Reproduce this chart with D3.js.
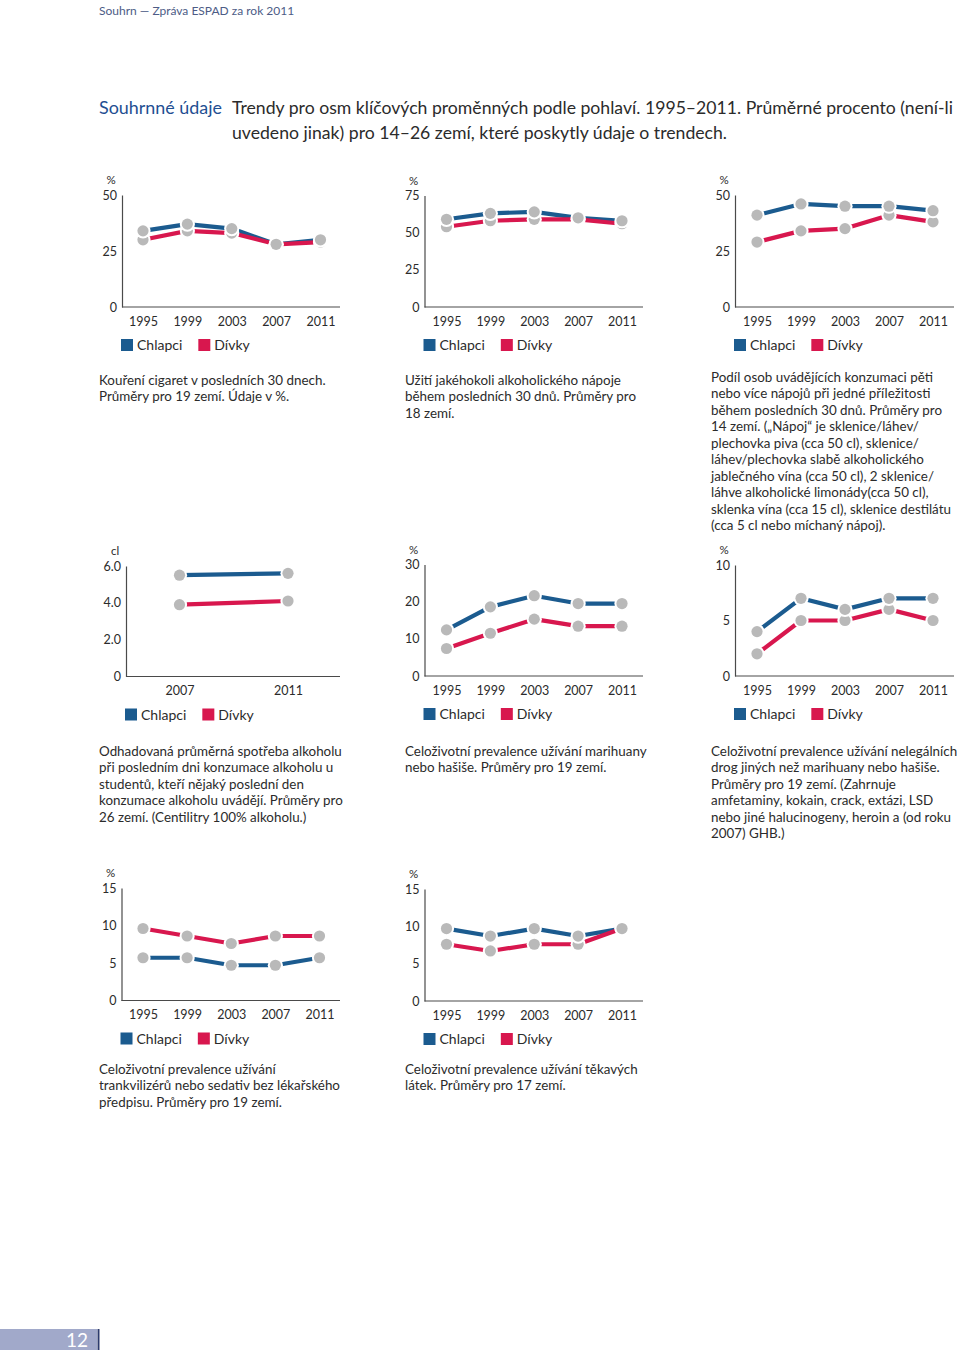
<!DOCTYPE html>
<html><head><meta charset="utf-8">
<script src="https://cdn.jsdelivr.net/npm/d3@7"></script>
<style>
body{margin:0;background:#fff}
svg{display:block}
text{font-family:Lato,"Open Sans",sans-serif}
</style>
</head><body>
<svg id="c" width="960" height="1352"></svg>
<script>
// ---------- data ----------
const years5 = ["1995","1999","2003","2007","2011"];
const years2 = ["2007","2011"];
const seriesNames = ["Chlapci","Dívky"];

const cigBoys  = [34, 37, 35, 28, 30];
const cigGirls = [30, 34, 33, 28, 29];
const alcBoys  = [59, 63, 64, 60, 58];
const alcGirls = [54, 58, 59, 59, 56];
const bingeBoys  = [41, 46, 45, 45, 43];
const bingeGirls = [29, 34, 35, 41, 38];
const volBoys  = [5.5, 5.6];
const volGirls = [3.9, 4.1];
const canBoys  = [12.4, 18.6, 21.6, 19.5, 19.5];
const canGirls = [7.4, 11.5, 15.3, 13.4, 13.4];
const drugBoys  = [4, 7, 6, 7, 7];
const drugGirls = [2, 5, 5, 6, 5];
const tranqBoys  = [5.7, 5.7, 4.7, 4.7, 5.7];
const tranqGirls = [9.6, 8.6, 7.6, 8.6, 8.6];
const inhBoys  = [9.7, 8.7, 9.7, 8.7, 9.7];
const inhGirls = [7.6, 6.7, 7.6, 7.6, 9.7];

const ticksA = [0, 25, 50];
const ticksB = [0, 25, 50, 75];
const ticksC = [0, 2, 4, 6];
const ticksD = [0, 10, 20, 30];
const ticksE = [0, 5, 10];
const ticksF = [0, 5, 10, 15];

const cap1 = ["Kouření cigaret v posledních 30 dnech.", "Průměry pro 19 zemí. Údaje v %."];
const cap2 = ["Užití jakéhokoli alkoholického nápoje", "během posledních 30 dnů. Průměry pro", "18 zemí."];
const cap3 = ["Podíl osob uvádějících konzumaci pěti", "nebo více nápojů při jedné příležitosti", "během posledních 30 dnů. Průměry pro", "14 zemí. („Nápoj“ je sklenice/láhev/", "plechovka piva (cca 50 cl), sklenice/", "láhev/plechovka slabě alkoholického", "jablečného vína (cca 50 cl), 2 sklenice/", "láhve alkoholické limonády(cca 50 cl),", "sklenka vína (cca 15 cl), sklenice destilátu", "(cca 5 cl nebo míchaný nápoj)."];
const cap4 = ["Odhadovaná průměrná spotřeba alkoholu", "při posledním dni konzumace alkoholu u", "studentů, kteří nějaký poslední den", "konzumace alkoholu uvádějí. Průměry pro", "26 zemí. (Centilitry 100% alkoholu.)"];
const cap5 = ["Celoživotní prevalence užívání marihuany", "nebo hašiše. Průměry pro 19 zemí."];
const cap6 = ["Celoživotní prevalence užívání nelegálních", "drog jiných než marihuany nebo hašiše.", "Průměry pro 19 zemí. (Zahrnuje", "amfetaminy, kokain, crack, extázi, LSD", "nebo jiné halucinogeny, heroin a (od roku", "2007) GHB.)"];
const cap7 = ["Celoživotní prevalence užívání", "trankvilizérů nebo sedativ bez lékařského", "předpisu. Průměry pro 19 zemí."];
const cap8 = ["Celoživotní prevalence užívání těkavých", "látek. Průměry pro 17 zemí."];

// ---------- style ----------
const BLUE = "#1b5b8f", RED = "#d8174e", GRAY = "#b9b9b9", TXT = "#2b2b2b", AXIS = "#4a4a4a";
const svg = d3.select("#c");

// header
svg.append("text").attr("x", 99).attr("y", 15).attr("font-size", 12).attr("fill", "#4d5c86")
  .text("Souhrn — Zpráva ESPAD za rok 2011");
svg.append("text").attr("x", 99).attr("y", 114).attr("font-size", 17.5).attr("fill", "#1f4f92")
  .attr("textLength", 123).attr("lengthAdjust", "spacingAndGlyphs")
  .text("Souhrnné údaje");
svg.append("text").attr("x", 232).attr("y", 114).attr("font-size", 17).attr("fill", TXT)
  .attr("textLength", 721).attr("lengthAdjust", "spacingAndGlyphs")
  .text("Trendy pro osm klíčových proměnných podle pohlaví. 1995–2011. Průměrné procento (není-li");
svg.append("text").attr("x", 232).attr("y", 139).attr("font-size", 17).attr("fill", TXT)
  .attr("textLength", 495).attr("lengthAdjust", "spacingAndGlyphs")
  .text("uvedeno jinak) pro 14–26 zemí, které poskytly údaje o trendech.");

// footer page number
svg.append("rect").attr("x", 0).attr("y", 1329).attr("width", 97).attr("height", 21).attr("fill", "#a1a9ca");
svg.append("line").attr("x1", 98.5).attr("x2", 98.5).attr("y1", 1329).attr("y2", 1350).attr("stroke", "#2c3b6d").attr("stroke-width", 2);
svg.append("text").attr("x", 88).attr("y", 1347).attr("text-anchor", "end").attr("font-size", 19).attr("fill", "#fff").text("12");

// ---------- charts ----------
const charts = [
  {ax:122, right:340, px:[143,320.5], top:195, zero:307, xs:years5, boys:cigBoys, girls:cigGirls, max:50, ticks:ticksA, unit:"%", fmt:d3.format("d"), cap:cap1, capY:380},
  {ax:424.5, right:643, px:[446.5,622], top:195.5, zero:307, xs:years5, boys:alcBoys, girls:alcGirls, max:75, ticks:ticksB, unit:"%", fmt:d3.format("d"), cap:cap2, capY:380},
  {ax:735, right:954, px:[757,933], top:195, zero:307, xs:years5, boys:bingeBoys, girls:bingeGirls, max:50, ticks:ticksA, unit:"%", fmt:d3.format("d"), cap:cap3, capY:377},
  {ax:126, right:340, px:[179.5,288], top:566, zero:676.5, xs:years2, boys:volBoys, girls:volGirls, max:6, ticks:ticksC, unit:"cl", fmt:d=>d===0?"0":d3.format(".1f")(d), cap:cap4, capY:751},
  {ax:424.5, right:643, px:[446.5,622], top:564.5, zero:676, xs:years5, boys:canBoys, girls:canGirls, max:30, ticks:ticksD, unit:"%", fmt:d3.format("d"), cap:cap5, capY:751},
  {ax:735, right:954, px:[757,933], top:565, zero:676, xs:years5, boys:drugBoys, girls:drugGirls, max:10, ticks:ticksE, unit:"%", fmt:d3.format("d"), cap:cap6, capY:751},
  {ax:121.5, right:340, px:[143,319.5], top:888, zero:1000.5, xs:years5, boys:tranqBoys, girls:tranqGirls, max:15, ticks:ticksF, unit:"%", fmt:d3.format("d"), cap:cap7, capY:1069},
  {ax:424.5, right:643, px:[446.5,622], top:889, zero:1001, xs:years5, boys:inhBoys, girls:inhGirls, max:15, ticks:ticksF, unit:"%", fmt:d3.format("d"), cap:cap8, capY:1069}
];

charts.forEach(c => {
  const g = svg.append("g");
  const x = d3.scalePoint().domain(c.xs).range(c.px);
  const y = d3.scaleLinear().domain([0, c.max]).range([c.zero, c.top]);

  // y axis
  const ya = g.append("g").attr("transform", `translate(${c.ax},0)`)
    .call(d3.axisLeft(y).tickValues(c.ticks).tickFormat(c.fmt).tickSizeInner(0).tickSizeOuter(0).tickPadding(5));
  ya.select(".domain").attr("stroke", AXIS).attr("stroke-width", 1.2);
  ya.selectAll("text").attr("font-size", 12.5).attr("fill", TXT).attr("font-family", "Lato");

  // x axis
  const xa = g.append("g").attr("transform", `translate(0,${c.zero})`)
    .call(d3.axisBottom(x).tickSize(0).tickPadding(10));
  xa.select(".domain").remove();
  xa.append("line").attr("x1", c.ax).attr("x2", c.right).attr("stroke", AXIS).attr("stroke-width", 1.2);
  xa.selectAll("text").attr("font-size", 12.5).attr("fill", TXT).attr("font-family", "Lato");

  // unit
  g.append("text").attr("x", c.ax - 11).attr("y", c.top - 11).attr("text-anchor", "middle")
    .attr("font-size", 11.5).attr("fill", TXT).text(c.unit);

  // lines
  const line = d3.line().x((d, i) => x(c.xs[i])).y(d => y(d));
  [[c.boys, BLUE], [c.girls, RED]].forEach(([vals, col]) => {
    g.append("path").datum(vals).attr("d", line).attr("fill", "none")
      .attr("stroke", col).attr("stroke-width", 4.2).attr("stroke-linejoin", "round");
  });
  // points: girls below, boys on top; white halo then gray dot
  [c.girls, c.boys].forEach(vals => {
    const pg = g.append("g");
    pg.selectAll(null).data(vals).enter().append("circle")
      .attr("cx", (d, i) => x(c.xs[i])).attr("cy", d => y(d)).attr("r", 7.6)
      .attr("fill", "#fff");
    pg.selectAll(null).data(vals).enter().append("circle")
      .attr("cx", (d, i) => x(c.xs[i])).attr("cy", d => y(d)).attr("r", 5.6)
      .attr("fill", GRAY);
  });

  // legend
  const ly = c.zero + 38;
  const lg = g.append("g").attr("transform", `translate(${c.ax - 1},${ly})`);
  const t1x = 16;
  lg.append("rect").attr("x", 0).attr("y", -6).attr("width", 12).attr("height", 12).attr("fill", BLUE);
  const t1 = lg.append("text").attr("x", t1x).attr("y", 5).attr("font-size", 14).attr("fill", TXT).text(seriesNames[0]);
  const w1 = t1.node().getComputedTextLength();
  const rx = t1x + w1 + 16;
  lg.append("rect").attr("x", rx).attr("y", -6).attr("width", 12).attr("height", 12).attr("fill", RED);
  lg.append("text").attr("x", rx + 16).attr("y", 5).attr("font-size", 14).attr("fill", TXT).text(seriesNames[1]);

  // caption
  const capX = c.ax < 200 ? 99 : (c.ax < 600 ? 405 : 711);
  const ct = g.append("text").attr("font-size", 13.4).attr("fill", TXT);
  c.cap.forEach((s, i) => {
    ct.append("tspan").attr("x", capX).attr("y", c.capY + 4.5 + i * 16.5).text(s);
  });
});
</script>
</body></html>
